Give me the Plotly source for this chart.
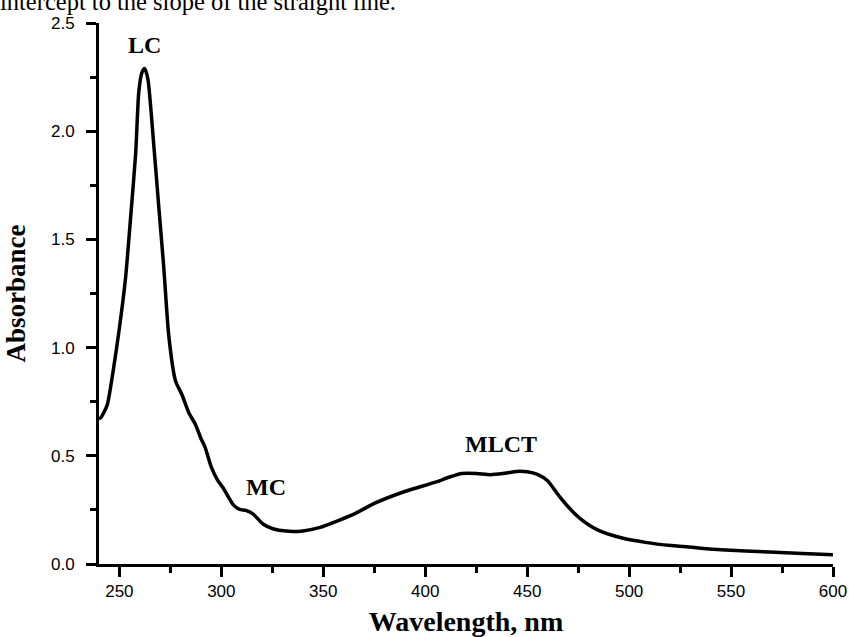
import plotly.graph_objects as go

# Data
wavelength_nm = [240, 241, 244, 247, 250, 253, 255.5, 258, 259.5, 261, 262.4, 264, 266.8,
                 269.3, 271.7, 274.2, 277.5, 280.7, 284, 287.3, 290, 292, 295, 298, 301,
                 306, 309, 312, 315.5, 320.4, 325.3, 331.8, 340, 348, 358, 366, 375,
                 390, 405, 412, 418, 425, 432, 438, 445, 450, 455, 460, 466, 471, 476,
                 484.5, 496.6, 508, 520.7, 533, 545, 569, 585, 600]
absorbance = [0.67, 0.677, 0.734, 0.895, 1.09, 1.32, 1.60, 1.90, 2.18, 2.27, 2.29, 2.24, 1.944,
              1.653, 1.379, 1.057, 0.847, 0.782, 0.70, 0.645, 0.58, 0.54, 0.45, 0.39, 0.35,
              0.272, 0.252, 0.248, 0.232, 0.185, 0.163, 0.152, 0.153, 0.168, 0.203, 0.235, 0.28,
              0.335, 0.378, 0.402, 0.418, 0.418, 0.413, 0.418, 0.428, 0.426, 0.414, 0.385,
              0.31, 0.255, 0.21, 0.158, 0.12, 0.10, 0.085, 0.075, 0.066, 0.055, 0.049, 0.043]

band_labels = ["LC", "MC", "MLCT"]
band_x = [262.3, 321.7, 437.0]
band_y = [2.40, 0.357, 0.553]

x_range = [240, 600]
y_range = [0, 2.5]

fig = go.Figure()
fig.add_trace(go.Scatter(
    x=wavelength_nm, y=absorbance, mode="lines",
    line=dict(color="black", width=3.5, shape="spline", smoothing=0.6),
    showlegend=False, hoverinfo="skip"))

for t, bx, by in zip(band_labels, band_x, band_y):
    fig.add_annotation(x=bx, y=by, text=f"<b>{t}</b>", showarrow=False,
                       xanchor="center", yanchor="middle",
                       font=dict(family="Liberation Serif", size=24, color="black"))

# clipped caption line from the surrounding document
fig.add_annotation(xref="paper", yref="paper", x=-0.138, y=1.0115,
                   xanchor="left", yanchor="bottom", showarrow=False,
                   text="intercept to the slope of the straight line.",
                   font=dict(family="Liberation Serif", size=24.5, color="black"))

axis_common = dict(showline=True, linecolor="black", linewidth=3, mirror=False,
                   showgrid=False, zeroline=False, ticks="outside", tickcolor="black",
                   tickwidth=2.5, ticklen=10,
                   tickfont=dict(family="Liberation Sans", size=17, color="black"))

fig.update_xaxes(range=x_range, tick0=250, dtick=50,
                 minor=dict(ticks="outside", ticklen=6, tickwidth=2.5, tickcolor="black",
                            dtick=25, tick0=250, showgrid=False),
                 title=dict(text="<b>Wavelength, nm</b>", standoff=15,
                            font=dict(family="Liberation Serif", size=28, color="black")),
                 ticklabelstandoff=0,
                 **axis_common)
fig.update_yaxes(range=y_range, tick0=0, dtick=0.5, tickformat=".1f",
                 minor=dict(ticks="outside", ticklen=6, tickwidth=2.5, tickcolor="black",
                            dtick=0.25, tick0=0, showgrid=False),
                 title=dict(text="<b>Absorbance</b>", standoff=18,
                            font=dict(family="Liberation Serif", size=27, color="black")),
                 ticklabelstandoff=8,
                 **axis_common)

fig.update_layout(width=849, height=637, plot_bgcolor="white", paper_bgcolor="white",
                  margin=dict(l=99, r=16, t=23, b=73, autoexpand=False))

fig.write_html("out.html", config={"displayModeBar": False},
               post_script="document.body.style.margin='0';document.body.style.overflow='hidden';")
